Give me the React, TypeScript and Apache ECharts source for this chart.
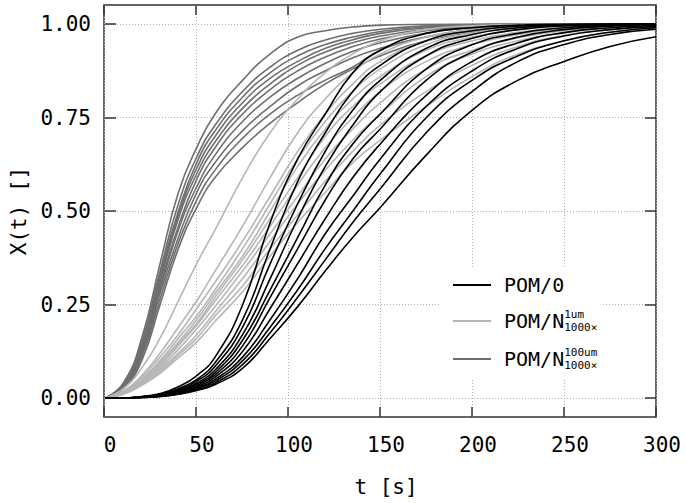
import React, { useEffect, useRef } from "react";
import * as echarts from "echarts";

const FONT = "DejaVu Sans Mono";

// time samples [s]
const times = [0, 10, 20, 30, 40, 50, 60, 75, 90, 105, 120, 135, 150, 175, 200, 225, 250, 275, 300];
const xTicks = [0, 50, 100, 150, 200, 250, 300];
const yTicks = [0, 0.25, 0.5, 0.75, 1];

const NAME_0 = "POM/0";
const NAME_1 = "POM/N 1um 1000×";
const NAME_100 = "POM/N 100um 1000×";

// POM/0 (black)
const pom0B1 = [0, 0, 0.004, 0.012, 0.03, 0.06, 0.11, 0.25, 0.47, 0.64, 0.76, 0.87, 0.93, 0.975, 0.99, 0.997, 1, 1, 1];
const pom0B2 = [0, 0, 0.003, 0.01, 0.025, 0.05, 0.095, 0.21, 0.4, 0.58, 0.71, 0.82, 0.89, 0.955, 0.982, 0.994, 0.998, 1, 1];
const pom0B3 = [0, 0, 0.003, 0.009, 0.022, 0.045, 0.085, 0.19, 0.36, 0.52, 0.66, 0.77, 0.85, 0.935, 0.972, 0.99, 0.997, 1, 1];
const pom0B4 = [0, 0, 0.003, 0.008, 0.02, 0.04, 0.075, 0.17, 0.32, 0.48, 0.62, 0.73, 0.82, 0.915, 0.962, 0.985, 0.995, 0.999, 1];
const pom0B5 = [0, 0, 0.002, 0.007, 0.018, 0.037, 0.068, 0.155, 0.29, 0.43, 0.57, 0.68, 0.76, 0.88, 0.945, 0.975, 0.99, 0.997, 1];
const pom0B6 = [0, 0, 0.002, 0.006, 0.016, 0.034, 0.062, 0.14, 0.27, 0.4, 0.53, 0.64, 0.72, 0.85, 0.925, 0.965, 0.985, 0.994, 0.998];
const pom0B7 = [0, 0, 0.002, 0.006, 0.015, 0.03, 0.056, 0.125, 0.24, 0.36, 0.48, 0.59, 0.68, 0.81, 0.9, 0.95, 0.977, 0.99, 0.996];
const pom0B8 = [0, 0, 0.002, 0.005, 0.013, 0.027, 0.05, 0.11, 0.21, 0.32, 0.44, 0.54, 0.64, 0.78, 0.875, 0.935, 0.968, 0.985, 0.993];
const pom0B9 = [0, 0, 0.002, 0.005, 0.012, 0.025, 0.045, 0.1, 0.19, 0.29, 0.4, 0.5, 0.6, 0.75, 0.85, 0.915, 0.955, 0.978, 0.99];
const pom0B10 = [0, 0, 0.001, 0.004, 0.011, 0.022, 0.04, 0.09, 0.175, 0.27, 0.37, 0.47, 0.56, 0.71, 0.82, 0.9, 0.945, 0.972, 0.986];
const pom0B11 = [0, 0, 0.001, 0.004, 0.01, 0.02, 0.036, 0.08, 0.16, 0.245, 0.34, 0.43, 0.51, 0.65, 0.77, 0.85, 0.9, 0.94, 0.966];

// POM/N 1um 1000x (light gray)
const n1L1 = [0, 0.025, 0.08, 0.16, 0.26, 0.36, 0.45, 0.59, 0.71, 0.8, 0.87, 0.92, 0.955, 0.985, 0.995, 0.999, 1, 1, 1];
const n1L2 = [0, 0.018, 0.06, 0.12, 0.19, 0.26, 0.34, 0.46, 0.59, 0.71, 0.8, 0.87, 0.92, 0.965, 0.985, 0.995, 0.999, 1, 1];
const n1L3 = [0, 0.016, 0.055, 0.11, 0.17, 0.24, 0.31, 0.42, 0.54, 0.66, 0.76, 0.84, 0.9, 0.955, 0.98, 0.992, 0.997, 1, 1];
const n1L4 = [0, 0.015, 0.05, 0.1, 0.16, 0.22, 0.29, 0.4, 0.52, 0.64, 0.74, 0.82, 0.88, 0.945, 0.975, 0.99, 0.996, 0.999, 1];
const n1L5 = [0, 0.014, 0.048, 0.095, 0.15, 0.21, 0.28, 0.38, 0.5, 0.62, 0.72, 0.8, 0.86, 0.93, 0.965, 0.985, 0.994, 0.998, 1];
const n1L6 = [0, 0.014, 0.045, 0.09, 0.145, 0.2, 0.27, 0.37, 0.48, 0.59, 0.7, 0.78, 0.84, 0.915, 0.955, 0.978, 0.99, 0.996, 0.999];
const n1L7 = [0, 0.013, 0.043, 0.085, 0.14, 0.195, 0.26, 0.355, 0.46, 0.57, 0.67, 0.75, 0.82, 0.9, 0.945, 0.972, 0.987, 0.995, 0.998];
const n1L8 = [0, 0.012, 0.04, 0.08, 0.13, 0.185, 0.245, 0.34, 0.44, 0.54, 0.64, 0.72, 0.79, 0.88, 0.93, 0.963, 0.982, 0.992, 0.997];
const n1L9 = [0, 0.012, 0.038, 0.075, 0.12, 0.17, 0.23, 0.32, 0.42, 0.52, 0.61, 0.69, 0.76, 0.86, 0.92, 0.955, 0.977, 0.99, 0.996];
const n1L10 = [0, 0.011, 0.036, 0.07, 0.115, 0.16, 0.22, 0.3, 0.4, 0.49, 0.58, 0.66, 0.73, 0.82, 0.89, 0.94, 0.97, 0.985, 0.994];
const n1L11 = [0, 0.01, 0.034, 0.066, 0.108, 0.15, 0.205, 0.285, 0.38, 0.47, 0.55, 0.63, 0.69, 0.78, 0.86, 0.92, 0.955, 0.978, 0.99];

// POM/N 100um 1000x (dark gray)
const n100D1 = [0, 0.04, 0.16, 0.36, 0.55, 0.67, 0.76, 0.85, 0.92, 0.965, 0.982, 0.992, 0.997, 0.999, 1, 1, 1, 1, 1];
const n100D2 = [0, 0.035, 0.15, 0.34, 0.52, 0.645, 0.73, 0.82, 0.885, 0.93, 0.957, 0.975, 0.986, 0.995, 0.998, 1, 1, 1, 1];
const n100D3 = [0, 0.035, 0.14, 0.33, 0.5, 0.63, 0.715, 0.805, 0.87, 0.915, 0.945, 0.965, 0.98, 0.992, 0.997, 1, 1, 1, 1];
const n100D4 = [0, 0.033, 0.135, 0.32, 0.49, 0.615, 0.7, 0.79, 0.855, 0.9, 0.935, 0.958, 0.975, 0.99, 0.996, 0.999, 1, 1, 1];
const n100D5 = [0, 0.032, 0.13, 0.31, 0.48, 0.6, 0.685, 0.775, 0.84, 0.89, 0.925, 0.95, 0.968, 0.986, 0.995, 0.998, 1, 1, 1];
const n100D6 = [0, 0.03, 0.125, 0.3, 0.46, 0.585, 0.67, 0.76, 0.825, 0.875, 0.912, 0.94, 0.96, 0.982, 0.993, 0.998, 1, 1, 1];
const n100D7 = [0, 0.03, 0.12, 0.29, 0.45, 0.565, 0.65, 0.74, 0.805, 0.855, 0.895, 0.927, 0.95, 0.976, 0.99, 0.996, 0.999, 1, 1];
const n100D8 = [0, 0.028, 0.115, 0.28, 0.43, 0.55, 0.63, 0.715, 0.78, 0.835, 0.875, 0.91, 0.935, 0.966, 0.985, 0.994, 0.998, 1, 1];
const n100D9 = [0, 0.027, 0.11, 0.265, 0.415, 0.53, 0.61, 0.695, 0.76, 0.81, 0.85, 0.885, 0.93, 0.965, 0.985, 0.993, 0.997, 0.999, 1];
const n100D10 = [0, 0.025, 0.1, 0.25, 0.4, 0.51, 0.59, 0.67, 0.735, 0.79, 0.84, 0.88, 0.915, 0.955, 0.978, 0.99, 0.996, 0.999, 1];

const pom0Curves = [pom0B1, pom0B2, pom0B3, pom0B4, pom0B5, pom0B6, pom0B7, pom0B8, pom0B9, pom0B10, pom0B11];
const n1Curves = [n1L1, n1L2, n1L3, n1L4, n1L5, n1L6, n1L7, n1L8, n1L9, n1L10, n1L11];
const n100Curves = [n100D1, n100D2, n100D3, n100D4, n100D5, n100D6, n100D7, n100D8, n100D9, n100D10];

const COLOR_0 = "#000000";
const COLOR_1 = "#b6b6b6";
const COLOR_100 = "#6e6e6e";

export default function App() {
  const ref = useRef<HTMLDivElement>(null);

  useEffect(() => {
    if (!ref.current) return;
    const chart = echarts.init(ref.current, undefined, { renderer: "svg" });

    const groups = [
      { name: NAME_100, color: COLOR_100, curves: n100Curves },
      { name: NAME_1, color: COLOR_1, curves: n1Curves },
      { name: NAME_0, color: COLOR_0, curves: pom0Curves },
    ];

    const series: any[] = [];
    groups.forEach((g) => {
      g.curves.forEach((c) => {
        series.push({
          type: "line",
          name: g.name,
          xAxisIndex: 2,
          yAxisIndex: 1,
          data: times.map((t, i) => [t, c[i]]),
          symbol: "none",
          showSymbol: false,
          smooth: true,
          silent: true,
          lineStyle: { color: g.color, width: 1.6 },
          itemStyle: { color: g.color },
        });
      });
    });

    const tickStyle = { color: "#333", width: 1.5 };
    const gridStyle = { color: "#b0b0b0", width: 1, type: [1, 2] as any };
    const textBase = { color: "#000", fontFamily: FONT, fontSize: 21 };

    chart.setOption({
      animation: false,
      backgroundColor: "#fff",
      grid: [
        { left: 104, right: 30, top: 5, bottom: 86, show: true, borderColor: "#333", borderWidth: 1.5, backgroundColor: "transparent" },
        { left: 104, right: 30, top: 24, bottom: 105 },
      ],
      xAxis: [
        {
          gridIndex: 0,
          type: "value",
          min: xTicks[0],
          max: xTicks[xTicks.length - 1],
          interval: 50,
          position: "bottom",
          axisLine: { show: false, onZero: false },
          axisTick: { show: true, inside: true, length: 10, lineStyle: tickStyle },
          axisLabel: { ...textBase, margin: 17, padding: [0, 0, 0, 12], showMinLabel: true, showMaxLabel: true },
          splitLine: { show: true, lineStyle: gridStyle },
          name: "t [s]",
          nameLocation: "middle",
          nameGap: 59,
          nameTextStyle: { ...textBase, padding: [0, 0, 0, 12] },
        },
        {
          gridIndex: 0,
          type: "value",
          min: xTicks[0],
          max: xTicks[xTicks.length - 1],
          interval: 50,
          position: "top",
          axisLine: { show: false, onZero: false },
          axisTick: { show: true, inside: true, length: 10, lineStyle: tickStyle },
          axisLabel: { show: false },
          splitLine: { show: false },
        },
        { gridIndex: 1, type: "value", min: 0, max: 300, show: false },
      ],
      yAxis: [
        { gridIndex: 0, type: "value", min: 0, max: 1, show: false },
        {
          gridIndex: 1,
          type: "value",
          min: yTicks[0],
          max: yTicks[yTicks.length - 1],
          interval: 0.25,
          position: "left",
          axisLine: { show: false, onZero: false },
          axisTick: { show: true, inside: true, length: 11, lineStyle: tickStyle },
          axisLabel: { ...textBase, margin: 14, formatter: (v: number) => v.toFixed(2), showMinLabel: true, showMaxLabel: true },
          splitLine: { show: true, lineStyle: gridStyle },
          name: "X(t) []",
          nameLocation: "middle",
          nameGap: 76,
          nameTextStyle: textBase,
        },
        {
          gridIndex: 1,
          type: "value",
          min: yTicks[0],
          max: yTicks[yTicks.length - 1],
          interval: 0.25,
          position: "right",
          axisLine: { show: false, onZero: false },
          axisTick: { show: true, inside: true, length: 11, lineStyle: tickStyle },
          axisLabel: { show: false },
          splitLine: { show: false },
        },
      ],
      legend: {
        data: [NAME_0, NAME_1, NAME_100],
        orient: "vertical",
        left: 440,
        top: 267,
        padding: [8, 6, 8, 13],
        itemGap: 14,
        itemWidth: 38,
        itemHeight: 2,
        icon: "rect",
        backgroundColor: "#fff",
        selectedMode: false,
        formatter: (name: string) => {
          if (name === NAME_0) return "{g| }{m|POM/0}";
          if (name === NAME_1) return "{g| }{m|POM/N}{sup|1um}{sub|1000×}";
          return "{g| }{m|POM/N}{sup|100um}{sub|1000×}";
        },
        textStyle: {
          color: "#000",
          fontFamily: FONT,
          fontSize: 20,
          rich: {
            g: { width: 8, fontSize: 20, lineHeight: 24, fontFamily: FONT },
            m: { color: "#000", fontFamily: FONT, fontSize: 20, lineHeight: 24 },
            sup: { color: "#000", fontFamily: FONT, fontSize: 11, lineHeight: 12.5, verticalAlign: "top", width: 0 },
            sub: { color: "#000", fontFamily: FONT, fontSize: 11, lineHeight: 7.5, verticalAlign: "bottom" },
          },
        },
      },
      series,
    });

    return () => chart.dispose();
  }, []);

  return <div ref={ref} style={{ position: "fixed", left: 0, top: 0, width: 686, height: 503 }} />;
}
